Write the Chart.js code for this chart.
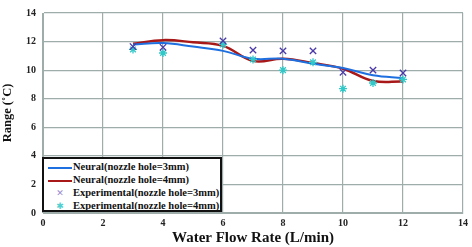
<!DOCTYPE html>
<html>
<head>
<meta charset="utf-8">
<script src="https://cdn.jsdelivr.net/npm/chart.js@4"></script>
<style>
  html, body { margin: 0; padding: 0; background: #fff; }
  #wrap { position: relative; width: 472px; height: 247px; }
  #legend {
    position: absolute; left: 42px; top: 157px; width: 180px; height: 55px;
    background: #fff; border: 2px solid #111; box-sizing: border-box;
    font: bold 10.5px "Liberation Serif", serif; color: #111;
  }
  .row { position: absolute; left: 4px; height: 13px; line-height: 13px; white-space: nowrap; }
  .swatch { display: inline-block; width: 24px; height: 0; vertical-align: middle; margin-right: 1px; }
  .mark { display: inline-block; width: 24px; text-align: center; margin-right: 1px; font: 9px "DejaVu Sans", sans-serif; }
</style>
</head>
<body>
<div id="wrap">
  <canvas id="c" width="472" height="247"></canvas>
  <div id="legend">
    <div class="row" style="top:1px"><span class="swatch" style="border-top:2px solid #1e6fe0"></span>Neural(nozzle hole=3mm)</div>
    <div class="row" style="top:14px"><span class="swatch" style="border-top:2px solid #a81818"></span>Neural(nozzle hole=4mm)</div>
    <div class="row" style="top:27px"><span class="mark" style="color:#9a8ad0">✕</span>Experimental(nozzle hole=3mm)</div>
    <div class="row" style="top:40px"><span class="mark" style="color:#50d0d0">✱</span>Experimental(nozzle hole=4mm)</div>
  </div>
</div>
<script>
  var X_VALUES = [3, 4, 5, 6, 7, 8, 9, 10, 11, 12];
  var NEURAL_3MM = [11.8, 11.9, 11.65, 11.35, 10.8, 10.8, 10.45, 10.15, 9.65, 9.45];
  var NEURAL_4MM = [11.85, 12.1, 11.95, 11.7, 10.65, 10.8, 10.5, 10.1, 9.25, 9.2];
  var EXP_X = [3, 4, 6, 7, 8, 9, 10, 11, 12];
  var EXP_3MM = [11.65, 11.6, 12.05, 11.4, 11.35, 11.35, 9.85, 10.0, 9.8];
  var EXP_4MM = [11.45, 11.2, 11.8, 10.75, 10.0, 10.55, 8.7, 9.1, 9.35];

  function pts(xs, ys) {
    return xs.map(function (x, i) { return { x: x, y: ys[i] }; });
  }

  var tickFont = { family: "'Liberation Serif', serif", size: 10, weight: 'bold' };
  var titleFont = { family: "'Liberation Serif', serif", size: 15, weight: 'bold' };

  new Chart(document.getElementById('c'), {
    type: 'scatter',
    data: {
      datasets: [
        { label: 'Experimental(nozzle hole=3mm)', data: pts(EXP_X, EXP_3MM), pointStyle: 'crossRot', radius: 4.5, borderColor: '#4a3aa8', borderWidth: 1.3, order: 1 },
        { label: 'Experimental(nozzle hole=4mm)', data: pts(EXP_X, EXP_4MM), pointStyle: 'star', radius: 4, borderColor: '#30c8c8', borderWidth: 1.3, order: 2 },
        { type: 'line', label: 'Neural(nozzle hole=3mm)', data: pts(X_VALUES, NEURAL_3MM), borderColor: '#1e6fe0', borderWidth: 2, pointRadius: 0, tension: 0.4, fill: false, order: 3 },
        { type: 'line', label: 'Neural(nozzle hole=4mm)', data: pts(X_VALUES, NEURAL_4MM), borderColor: '#a81818', borderWidth: 2.5, pointRadius: 0, tension: 0.4, fill: false, order: 4 }
      ]
    },
    options: {
      responsive: false,
      animation: false,
      layout: { padding: { top: 5, right: 8, left: 0, bottom: 0 } },
      plugins: { legend: { display: false }, tooltip: { enabled: false } },
      scales: {
        x: {
          type: 'linear', min: 0, max: 14,
          ticks: { stepSize: 2, color: '#222', font: tickFont, padding: 4 },
          grid: { color: '#9fadaa', lineWidth: 1.2, drawTicks: false },
          border: { color: '#9fadaa' },
          title: { display: true, text: 'Water Flow Rate (L/min)', color: '#111', font: titleFont, padding: { top: 3, bottom: 0 } },
          afterFit: function (s) { s.height = 34; }
        },
        y: {
          min: 0, max: 14,
          ticks: { stepSize: 2, color: '#222', font: tickFont, padding: 7 },
          grid: { color: '#9fadaa', lineWidth: 1.2, drawTicks: false },
          border: { color: '#9fadaa' },
          title: { display: true, text: 'Range (˚C)', color: '#111', font: { family: "'Liberation Serif', serif", size: 12.5, weight: 'bold' }, padding: { top: 0, bottom: 1 } },
          afterFit: function (s) { s.width = 43; }
        }
      }
    }
  });
</script>
</body>
</html>
